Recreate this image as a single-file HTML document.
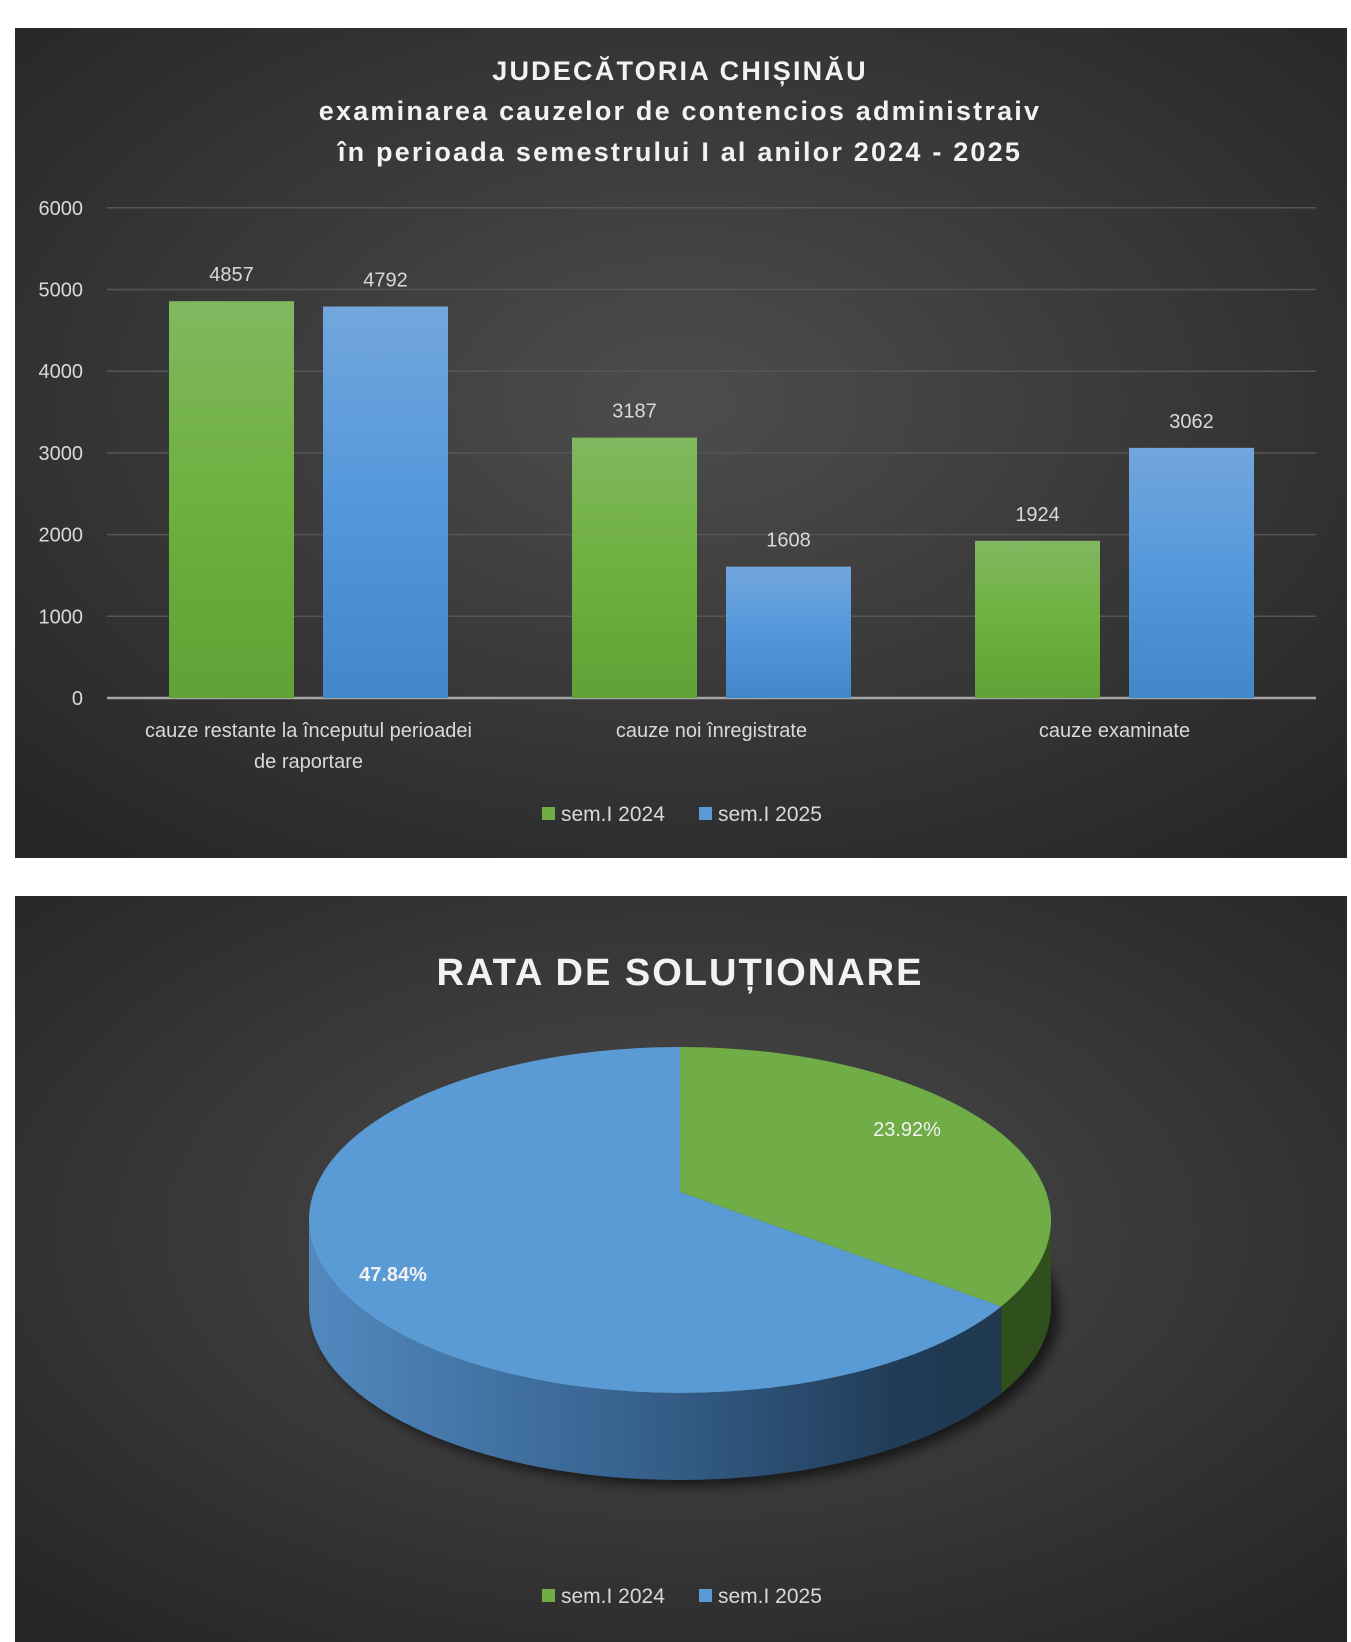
<!DOCTYPE html>
<html><head><meta charset="utf-8">
<style>
html,body{margin:0;padding:0;background:#fff;}
body{width:1351px;height:1642px;position:relative;overflow:hidden;font-family:"Liberation Sans","DejaVu Sans",sans-serif;}
svg{position:absolute;left:0;top:0;}
</style></head>
<body>
<svg width="1351" height="1642" viewBox="0 0 1351 1642">
<defs>
<radialGradient id="bg1" cx="0.5" cy="0.45" r="0.7">
<stop offset="0" stop-color="#4d4d4d"/><stop offset="1" stop-color="#262626"/></radialGradient>
<radialGradient id="bg2" cx="0.5" cy="0.45" r="0.7">
<stop offset="0" stop-color="#4d4d4d"/><stop offset="1" stop-color="#262626"/></radialGradient>
<linearGradient id="gG" x1="0" y1="0" x2="0" y2="1"><stop offset="0" stop-color="#80b860"/><stop offset="0.5" stop-color="#6fb03f"/><stop offset="1" stop-color="#62a136"/></linearGradient>
<linearGradient id="gB" x1="0" y1="0" x2="0" y2="1"><stop offset="0" stop-color="#72a6dd"/><stop offset="0.5" stop-color="#5498db"/><stop offset="1" stop-color="#4287c8"/></linearGradient>
<linearGradient id="sideB" x1="0" y1="0" x2="1" y2="0"><stop offset="0" stop-color="#5189bf"/><stop offset="0.5" stop-color="#355f8a"/><stop offset="0.85" stop-color="#213c58"/><stop offset="1" stop-color="#203850"/></linearGradient>
<filter id="sh" x="-10%" y="-10%" width="120%" height="130%"><feGaussianBlur stdDeviation="6"/></filter>
</defs>
<rect x="15" y="28" width="1332" height="830" fill="url(#bg1)"/>
<rect x="15" y="896" width="1332" height="746" fill="url(#bg2)"/>
<g font-weight="bold" fill="#f2f2f2" font-size="27" text-anchor="middle" letter-spacing="2.2">
<text x="680" y="80">JUDECĂTORIA CHIȘINĂU</text>
<text x="680" y="120">examinarea cauzelor de contencios administraiv</text>
<text x="680" y="161"> în perioada semestrului I al anilor 2024 - 2025</text>
</g>
<g id="bars"></g>
<text x="680" y="985" font-weight="bold" fill="#f2f2f2" font-size="38" text-anchor="middle" letter-spacing="2">RATA DE SOLUȚIONARE</text>
<g id="pie"></g>
<g font-size="21" fill="#d9d9d9">
<rect x="542" y="807" width="13" height="13" fill="#70ad47"/>
<text x="561" y="821">sem.I 2024</text>
<rect x="699" y="807" width="13" height="13" fill="#5b9bd5"/>
<text x="718" y="821">sem.I 2025</text>
</g>
<g font-size="21" fill="#d9d9d9">
<rect x="542" y="1589" width="13" height="13" fill="#70ad47"/>
<text x="561" y="1603">sem.I 2024</text>
<rect x="699" y="1589" width="13" height="13" fill="#5b9bd5"/>
<text x="718" y="1603">sem.I 2025</text>
</g>
</svg>
<script>
const categories=[["cauze restante la începutul perioadei","de raportare"],["cauze noi înregistrate"],["cauze examinate"]];
const series2024=[4857,3187,1924];
const series2025=[4792,1608,3062];
const yTicks=[0,1000,2000,3000,4000,5000,6000];
const pieLabels=["sem.I 2024","sem.I 2025"];
const pieValues=[23.92,47.84];

const NS="http://www.w3.org/2000/svg";
function mk(tag,attrs,parent){const e=document.createElementNS(NS,tag);for(const k in attrs)e.setAttribute(k,attrs[k]);parent.appendChild(e);return e;}
const X0=107,X1=1316,Y0=698,PERK=81.7/1000;
function y(v){return Y0-v*PERK;}
function catCenter(i){return X0+(X1-X0)/categories.length*(i+0.5);}
const g=document.getElementById('bars');
yTicks.forEach(t=>{
  const ln=mk('line',{x1:X0,x2:X1,y1:y(t),y2:y(t),stroke:t===0?'#a6a6a6':'#555555','stroke-width':t===0?2.5:1.5},g);
  
  
  const tx=mk('text',{x:83,y:y(t)+7,'text-anchor':'end','font-size':20,fill:'#d9d9d9'},g);
  tx.textContent=t;
  
  
});
const BW=125,OFF=77;
categories.forEach((c,i)=>{
  const cx=catCenter(i);
  [[series2024,'url(#gG)',-OFF,'2024'],[series2025,'url(#gB)',OFF,'2025']].forEach(s=>{
    const v=s[0][i];
    const r=mk('rect',{x:cx+s[2]-BW/2,y:y(v),width:BW,height:v*PERK,fill:s[1]},g);
    
    
    const t=mk('text',{x:cx+s[2],y:y(v)-20,'text-anchor':'middle','font-size':20,fill:'#d9d9d9'},g);
    t.textContent=v;
    
    
  });
  c.forEach((line,j)=>{
    const t=mk('text',{x:cx,y:737+j*31,'text-anchor':'middle','font-size':20,fill:'#d9d9d9'},g);
    t.textContent=line;
    
    
  });
});
// pie
const p=document.getElementById('pie');
const CX=680,CY=1220,RX=371,RY=173,D=87,AY=1192;
const total=pieValues.reduce((a,b)=>a+b,0);
function pt(a,dy){return [CX+RX*Math.cos(a),CY+RY*Math.sin(a)+(dy||0)];}
const sh=mk('ellipse',{cx:CX+8,cy:CY+D+6,rx:RX,ry:RY,fill:'#000','opacity':0.6,filter:'url(#sh)'},p);

let start=-Math.PI/2;
const angles=pieValues.map(v=>{const a0=start;start+=v/total*2*Math.PI;return [a0,start];});
const topCols=['#70ad47','#5b9bd5'],sideCols=['#2f4f1d','url(#sideB)'];
// sides
angles.forEach((a,i)=>{
  const s=Math.max(a[0],0),e=Math.min(a[1],Math.PI);
  const segs=[];
  if(e>s)segs.push([s,e]);
  // handle wrap (angles beyond 2π mapping to 0..π)
  const s2=Math.max(a[0]-2*Math.PI,0),e2=Math.min(a[1]-2*Math.PI,Math.PI);
  if(e2>s2)segs.push([s2,e2]);
  segs.forEach(sg=>{
    const p1=pt(sg[0]),p2=pt(sg[1]),p3=pt(sg[1],D),p4=pt(sg[0],D);
    const large=(sg[1]-sg[0])>Math.PI?1:0;
    const path=mk('path',{d:`M${p1} A${RX},${RY} 0 ${large} 1 ${p2} L${p3} A${RX},${RY} 0 ${large} 0 ${p4} Z`,fill:sideCols[i]},p);
    
    
  });
});
angles.forEach((a,i)=>{
  const p1=pt(a[0]),p2=pt(a[1]);
  const large=(a[1]-a[0])>Math.PI?1:0;
  const path=mk('path',{d:`M${CX},${AY} L${p1} A${RX},${RY} 0 ${large} 1 ${p2} Z`,fill:topCols[i]},p);
  
  
});
const lblPos=[[907,1136,false],[393,1281,true]];
pieValues.forEach((v,i)=>{
  const t=mk('text',{x:lblPos[i][0],y:lblPos[i][1],'text-anchor':'middle','font-size':20,fill:'#f2f2f2','font-weight':lblPos[i][2]?'bold':'normal'},p);
  t.textContent=v.toFixed(2)+'%';
  
  
});
</script>
</body></html>
